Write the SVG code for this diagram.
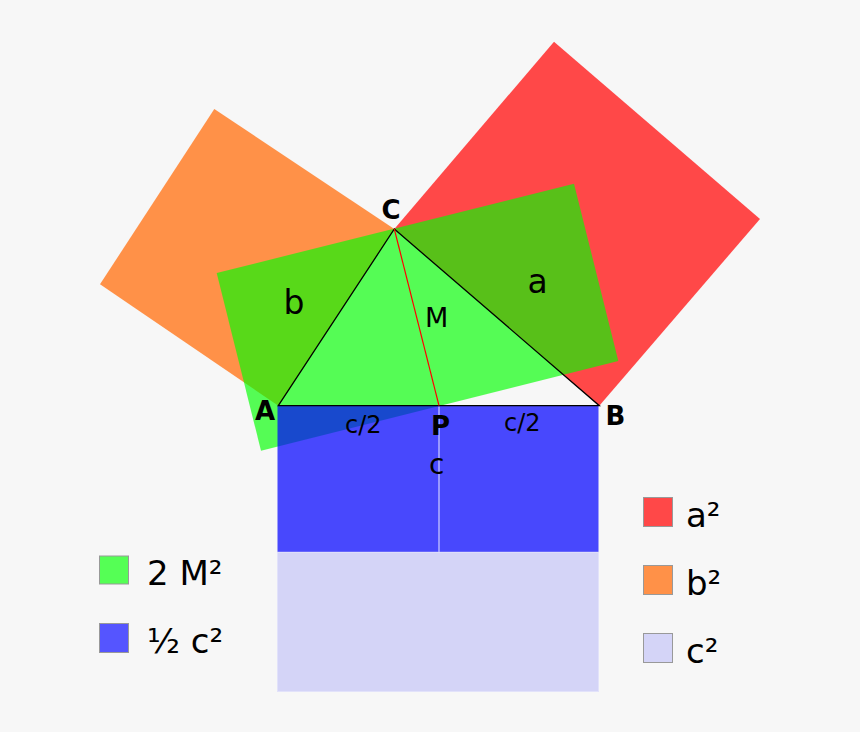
<svg xmlns="http://www.w3.org/2000/svg" width="860" height="732" viewBox="0 0 860 732">
<style>
text{font-family:"DejaVu Sans","Liberation Sans",sans-serif;fill:#000}
.lbl{font-weight:bold;font-size:26px}
.big{font-size:33px}
.leg{font-size:34px}
.sw{stroke:#999;stroke-width:1}
.edge{stroke:#000;stroke-width:1.3;fill:none}
</style>
<rect width="860" height="732" fill="#f7f7f7"/>
<g id="square-b"><polygon points="214.3,109 394.3,229 278.3,405.7 100,284.3" fill="#ff9148"/></g>
<g id="square-a"><polygon points="554,41.7 760,219 599.3,405.7 394.3,229" fill="#ff4848"/></g>
<g id="rect-2M"><polygon points="216.7,273 574,183.7 618.3,361 261,450.7" fill="#00ff00" fill-opacity="0.656"/></g>
<g id="rect-half-c"><rect x="277.5" y="405.7" width="321" height="146.6" fill="#0000ff" fill-opacity="0.71"/></g>
<g id="square-c"><rect x="277.5" y="552.3" width="321" height="139.2" fill="#d4d4f7" stroke="#e2e2fa" stroke-width="1"/></g>
<g id="connectors">
<line x1="439" y1="406.5" x2="439" y2="552" stroke="#b4b4ff" stroke-width="1.5"/>
<polygon class="edge" points="278.3,405.7 394.3,229 599.3,405.7"/>
<line x1="394.3" y1="229" x2="439" y2="405.7" stroke="#ff0000" stroke-width="1.2"/>
</g>
<g id="labels">
<text class="lbl" x="255" y="419.5">A</text>
<text class="lbl" x="381.5" y="218.5">C</text>
<text class="lbl" x="605.5" y="424.5">B</text>
<text class="lbl" x="431" y="435">P</text>
<text class="big" x="283.5" y="313.5">b</text>
<text class="big" x="527.5" y="293">a</text>
<text x="425" y="327" font-size="27">M</text>
<text x="345" y="432.5" font-size="24">c/2</text>
<text x="504" y="430.5" font-size="24">c/2</text>
<text x="429" y="474" font-size="28">c</text>
</g>
<g id="legend">
<rect class="sw" x="99.5" y="556" width="29" height="28" fill="#55ff55"/>
<text class="leg" x="147" y="585">2 M²</text>
<rect class="sw" x="99.5" y="623.5" width="29" height="29" fill="#5555ff"/>
<text class="leg" x="147" y="653">½ c²</text>
<rect class="sw" x="643.5" y="497.5" width="29" height="29" fill="#ff4848"/>
<text class="leg" x="686" y="527">a²</text>
<rect class="sw" x="643.5" y="565.5" width="29" height="29" fill="#ff9148"/>
<text class="leg" x="686" y="595">b²</text>
<rect class="sw" x="643.5" y="633.5" width="29" height="29" fill="#d4d4f7"/>
<text class="leg" x="686" y="663">c²</text>
</g>
</svg>
